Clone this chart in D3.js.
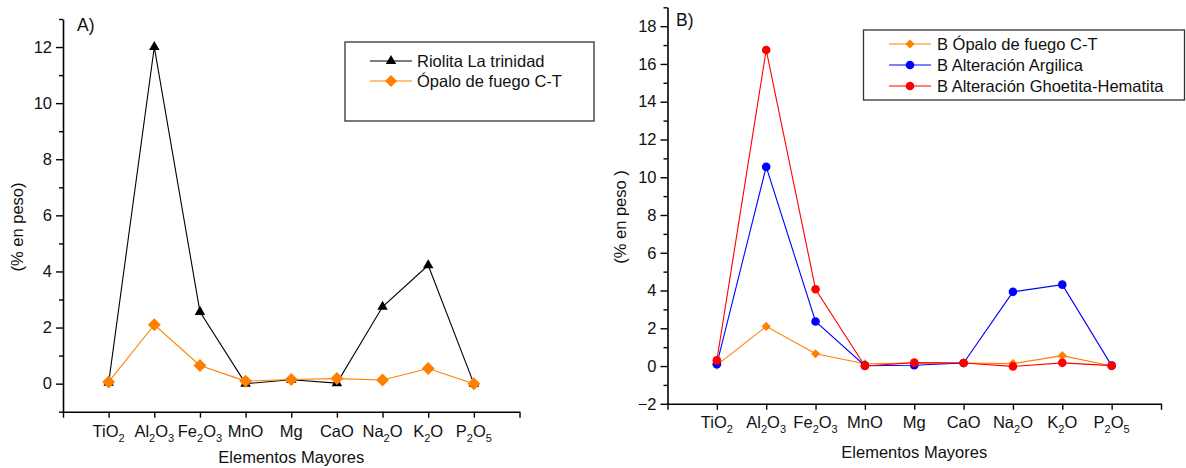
<!DOCTYPE html>
<html>
<head>
<meta charset="utf-8">
<script src="https://cdn.jsdelivr.net/npm/d3@7"></script>
<style>
  html, body { margin: 0; padding: 0; background: #fff; }
  svg { display: block; font-family: "Liberation Sans", Arial, sans-serif; }
</style>
</head>
<body>
<svg id="chart" width="1186" height="468"></svg>
<script>
// ---------------- DATA ----------------
const categories = ["TiO2", "Al2O3", "Fe2O3", "MnO", "Mg", "CaO", "Na2O", "K2O", "P2O5"];

// Panel A
const riolitaA = [0.03, 12.0, 2.56, 0.0, 0.14, 0.02, 2.74, 4.22, 0.0];
const opaloA   = [0.06, 2.1, 0.65, 0.09, 0.15, 0.18, 0.13, 0.54, 0.0];
const yTicksA  = [0, 2, 4, 6, 8, 10, 12];
const yMinorA  = [-1, 1, 3, 5, 7, 9, 11, 13];

// Panel B
const opaloB    = [0.05, 2.1, 0.65, 0.12, 0.16, 0.16, 0.13, 0.55, 0.0];
const argilicaB = [0.1, 10.55, 2.36, 0.02, 0.04, 0.16, 3.93, 4.31, 0.02];
const hematitaB = [0.3, 16.74, 4.07, 0.0, 0.18, 0.16, -0.02, 0.17, 0.02];
const yTicksB   = [-2, 0, 2, 4, 6, 8, 10, 12, 14, 16, 18];
const yMinorB   = [-1, 1, 3, 5, 7, 9, 11, 13, 15, 17, 19];

const legendA = ["Riolita La trinidad", "Ópalo de fuego C-T"];
const legendB = ["B Ópalo de fuego C-T", "B Alteración Argilica", "B Alteración Ghoetita-Hematita"];

// ---------------- DRAW ----------------
const svg = d3.select("#chart");
const FS = 16.5;

function chemLabel(sel, label) {
  const parts = label.match(/[A-Za-z]+|\d+/g);
  let sub = false;
  parts.forEach(p => {
    const isDigit = /\d/.test(p);
    const t = sel.append("tspan").text(p);
    if (isDigit) {
      t.attr("font-size", 11).attr("dy", sub ? 0 : 5);
      sub = true;
    } else {
      t.attr("font-size", FS).attr("dy", sub ? -5 : 0);
      sub = false;
    }
  });
}

function symbolPath(type, size) {
  return d3.symbol().type(type).size(size)();
}

function drawPanel(cfg) {
  const g = svg.append("g");
  const x = d3.scaleLinear().domain([0, 10]).range([cfg.x0, cfg.x1]);
  const y = d3.scaleLinear().domain(cfg.yDomain).range([cfg.yBottom, cfg.yTop]);

  // x axis
  const xAxis = g.append("g")
    .attr("transform", `translate(0,${cfg.yBottom})`)
    .call(d3.axisBottom(x).tickValues(d3.range(0, 11)).tickFormat("").tickSize(6).tickSizeOuter(0));
  xAxis.select(".domain").attr("stroke", "#000").attr("stroke-width", 1.6);
  xAxis.selectAll(".tick line").attr("stroke", "#000").attr("stroke-width", 1.4);

  // x labels
  categories.forEach((c, i) => {
    const t = g.append("text")
      .attr("x", x(i + 1))
      .attr("y", cfg.yBottom + cfg.xLabelOff)
      .attr("text-anchor", "middle")
      .attr("font-size", FS)
      .attr("fill", "#111");
    chemLabel(t, c);
  });
  g.append("text")
    .attr("x", (cfg.x0 + cfg.x1) / 2)
    .attr("y", cfg.yBottom + cfg.xTitleOff)
    .attr("text-anchor", "middle")
    .attr("font-size", FS)
    .attr("fill", "#111")
    .text("Elementos Mayores");

  // y axis minor
  const yMin = g.append("g")
    .attr("transform", `translate(${cfg.x0},0)`)
    .call(d3.axisLeft(y).tickValues(cfg.yMinor).tickFormat("").tickSize(4).tickSizeOuter(0));
  yMin.select(".domain").remove();
  yMin.selectAll(".tick line").attr("stroke", "#000").attr("stroke-width", 1.4);

  // y axis major
  const yAx = g.append("g")
    .attr("transform", `translate(${cfg.x0},0)`)
    .call(d3.axisLeft(y).tickValues(cfg.yTicks).tickSize(7).tickSizeOuter(0).tickPadding(4));
  yAx.select(".domain").attr("stroke", "#000").attr("stroke-width", 1.6);
  yAx.selectAll(".tick line").attr("stroke", "#000").attr("stroke-width", 1.4);
  yAx.selectAll(".tick text").attr("font-size", FS).attr("fill", "#111")
    .attr("font-family", "Liberation Sans, Arial, sans-serif");

  // y title
  g.append("text")
    .attr("transform", `translate(${cfg.yTitleX},${cfg.yTitleY}) rotate(-90)`)
    .attr("text-anchor", "middle")
    .attr("dy", "0.35em")
    .attr("font-size", FS)
    .attr("fill", "#111")
    .text(cfg.yTitle);

  // panel letter
  g.append("text")
    .attr("x", cfg.letterX).attr("y", cfg.letterY)
    .attr("font-size", 17.5).attr("fill", "#111")
    .text(cfg.letter);

  // series
  cfg.series.forEach(s => {
    const line = d3.line().x((d, i) => x(i + 1)).y(d => y(d));
    g.append("path")
      .datum(s.values)
      .attr("fill", "none")
      .attr("stroke", s.color)
      .attr("stroke-width", 1.1)
      .attr("d", line);
    g.selectAll(null)
      .data(s.values)
      .enter().append("path")
      .attr("d", symbolPath(s.symbol, s.size))
      .attr("transform", (d, i) => `translate(${x(i + 1)},${y(d)}) rotate(${s.rotate || 0})`)
      .attr("fill", s.color);
  });

  // legend
  const L = cfg.legend;
  g.append("rect")
    .attr("x", L.x).attr("y", L.y).attr("width", L.w).attr("height", L.h)
    .attr("fill", "#fff").attr("stroke", "#333").attr("stroke-width", 1.3);
  cfg.series.forEach((s, i) => {
    const ry = L.row0 + i * L.rowH;
    g.append("line")
      .attr("x1", L.lineX0).attr("x2", L.lineX1).attr("y1", ry).attr("y2", ry)
      .attr("stroke", s.color).attr("stroke-width", 1.1);
    g.append("path")
      .attr("d", symbolPath(s.symbol, s.legendSize || s.size))
      .attr("transform", `translate(${(L.lineX0 + L.lineX1) / 2},${ry}) rotate(${s.rotate || 0})`)
      .attr("fill", s.color);
    g.append("text")
      .attr("x", L.textX).attr("y", ry).attr("dy", "0.36em")
      .attr("font-size", FS).attr("fill", "#111")
      .text(s.name);
  });
}

drawPanel({
  x0: 63, x1: 519.5, yTop: 19, yBottom: 411.7, yDomain: [-1, 13],
  yTicks: yTicksA, yMinor: yMinorA,
  xLabelOff: 25.5, xTitleOff: 51.5,
  yTitle: "(% en peso)", yTitleX: 17, yTitleY: 227,
  letter: "A)", letterX: 77, letterY: 31,
  series: [
    { name: legendA[0], values: riolitaA, color: "#000000", symbol: d3.symbolTriangle, size: 48 },
    { name: legendA[1], values: opaloA, color: "#FF8000", symbol: d3.symbolSquare, size: 84, legendSize: 70, rotate: 45 }
  ],
  legend: { x: 345, y: 42, w: 249, h: 79, row0: 61, rowH: 20, lineX0: 370, lineX1: 412, textX: 417 }
});

drawPanel({
  x0: 667.5, x1: 1161, yTop: 7.3, yBottom: 403.8, yDomain: [-2, 19],
  yTicks: yTicksB, yMinor: yMinorB,
  xLabelOff: 24.5, xTitleOff: 54.5,
  yTitle: "(% en peso )", yTitleX: 620, yTitleY: 217,
  letter: "B)", letterX: 676, letterY: 26,
  series: [
    { name: legendB[0], values: opaloB, color: "#FF8000", symbol: d3.symbolSquare, size: 42, rotate: 45 },
    { name: legendB[1], values: argilicaB, color: "#0000FF", symbol: d3.symbolCircle, size: 58 },
    { name: legendB[2], values: hematitaB, color: "#FF0000", symbol: d3.symbolCircle, size: 58 }
  ],
  legend: { x: 863.5, y: 30, w: 321, h: 70, row0: 44, rowH: 21, lineX0: 889, lineX1: 931, textX: 937 }
});
</script>
</body>
</html>
